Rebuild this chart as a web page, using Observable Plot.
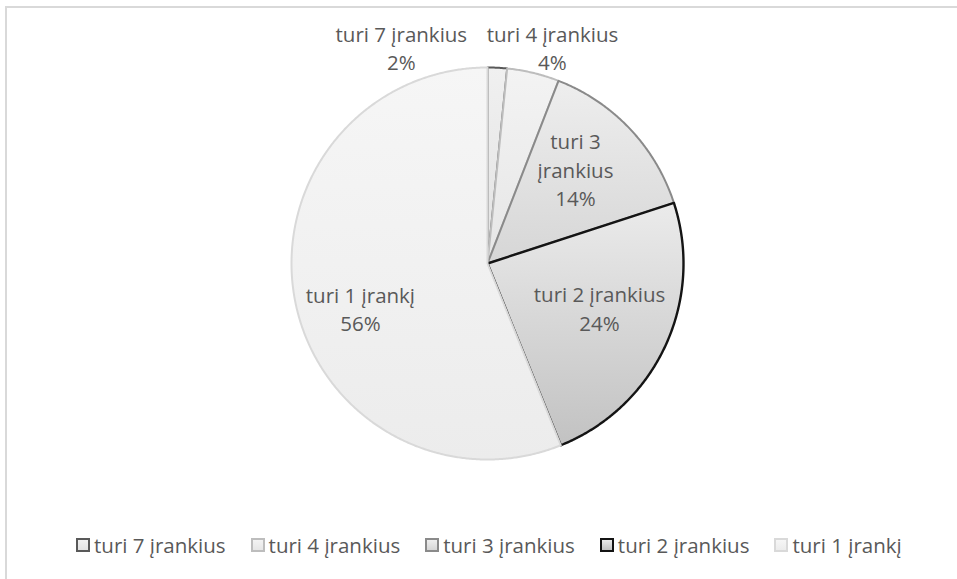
<!DOCTYPE html>
<html>
<head>
<meta charset="utf-8">
<script src="https://cdn.jsdelivr.net/npm/d3@7"></script>
<script src="https://cdn.jsdelivr.net/npm/@observablehq/plot@0.6"></script>
<style>
  body { margin: 0; background: #fff; font-family: "Open Sans", sans-serif; }
  #wrap { position: relative; width: 957px; height: 579px; overflow: hidden; background: #fff; }
  #frame { position: absolute; left: 5px; top: 6px; width: 1200px; height: 1200px;
           border-left: 2px solid #d9d9d9; border-top: 2px solid #d9d9d9; }
  #chart { position: absolute; left: 0; top: 0; }
  #legend { position: absolute; left: 76px; top: 531px; display: flex; align-items: center;
            font-size: 20.5px; color: #595959; white-space: nowrap; line-height: 28px; }
  .item { display: flex; align-items: center; margin-right: 25px; }
  .sw { width: 10px; height: 10px; margin-right: 4px; box-sizing: content-box; }
</style>
</head>
<body>
<div id="wrap">
  <div id="frame"></div>
  <div id="chart"></div>
  <div id="legend"></div>
</div>
<script>
// ---- data ----
const categories = ["turi 7 įrankius", "turi 4 įrankius", "turi 3 įrankius", "turi 2 įrankius", "turi 1 įrankį"];
const shares = [1.6, 4.3, 14.1, 23.9, 56.1];
const pctLabels = ["2%", "4%", "14%", "24%", "56%"];

// ---- styles / layout ----
const strokeColors = ["#595959", "#bdbdbd", "#8a8a8a", "#141414", "#d9d9d9"];
const strokeWidths = [2, 2, 2, 2.4, 2];
const gradTop = ["#f0f0f0", "#f3f3f3", "#eeeeee", "#ebebeb", "#f6f6f6"];
const gradBottom = ["#e2e2e2", "#e6e6e6", "#d6d6d6", "#c2c2c2", "#ececec"];
// label placement: [radius fraction, angle in degrees clockwise from top, wrap name]
const labelLayout = [[1.189, 338.3, false], [1.153, 16.7, false], [0.661, 42.8, true], [0.614, 111.4, false], [0.687, 250.7, false]];
const cx = 487, cy = 263, R = 196;

const arcs = d3.pie().sort(null).value(d => d)(shares);
const rad = Math.PI / 180;

const slices = arcs.map((a, i) => {
  const n = Math.max(4, Math.ceil((a.endAngle - a.startAngle) / (0.4 * rad)));
  const pts = [{x: 0, y: 0}];
  for (let k = 0; k <= n; k++) {
    const t = a.startAngle + (a.endAngle - a.startAngle) * k / n;
    pts.push({x: Math.sin(t), y: Math.cos(t)});
  }
  pts.push({x: 0, y: 0});
  return pts;
});

const circlePts = d3.range(0, 361, 1).map(d => ({x: Math.sin(d * rad), y: Math.cos(d * rad)}));

const labels = categories.map((c, i) => {
  const [r, ang, wrap] = labelLayout[i];
  const name = wrap ? c.replace(" į", "\nį") : c;
  return {x: r * Math.sin(ang * rad), y: r * Math.cos(ang * rad), text: name + "\n" + pctLabels[i]};
});

const defsMark = () => {
  const defs = d3.create("svg:defs");
  categories.forEach((c, i) => {
    const g = defs.append("linearGradient").attr("id", "g" + i)
      .attr("x1", 0).attr("y1", 0).attr("x2", 0).attr("y2", 1);
    g.append("stop").attr("offset", "0%").attr("stop-color", gradTop[i]);
    g.append("stop").attr("offset", "100%").attr("stop-color", gradBottom[i]);
  });
  const f = defs.append("filter").attr("id", "shadowBlur")
    .attr("x", "-20%").attr("y", "-20%").attr("width", "140%").attr("height", "140%");
  f.append("feGaussianBlur").attr("stdDeviation", 3.5);
  return defs.node();
};

const chart = Plot.plot({
  width: 957,
  height: 525,
  margin: 0,
  style: {background: "transparent", fontFamily: "'Open Sans', sans-serif"},
  x: {type: "linear", domain: [-1, 1], range: [cx - R, cx + R], axis: null},
  y: {type: "linear", domain: [-1, 1], range: [cy + R, cy - R], axis: null},
  marks: [
    defsMark,
    Plot.line(circlePts, {x: "x", y: "y", fill: "#000", fillOpacity: 0.32, stroke: "none", dy: 3, ariaLabel: "shadow"}),
    ...slices.map((pts, i) => Plot.line(pts, {
      x: "x", y: "y", curve: "linear",
      fill: `url(#g${i})`, stroke: strokeColors[i], strokeWidth: strokeWidths[i], strokeLinejoin: "round"
    })),
    Plot.text(labels, {x: "x", y: "y", text: "text", fontSize: 20.5, lineHeight: 1.39, fill: "#595959"})
  ]
});
d3.select(chart).select('g[aria-label="shadow"]').attr("filter", "url(#shadowBlur)");
document.getElementById("chart").appendChild(chart);

const legend = d3.select("#legend");
categories.forEach((c, i) => {
  const it = legend.append("div").attr("class", "item");
  it.append("span").attr("class", "sw")
    .style("border", `2px solid ${strokeColors[i]}`)
    .style("background", `linear-gradient(${gradTop[i]}, ${gradBottom[i]})`);
  it.append("span").text(c);
});
</script>
</body>
</html>
